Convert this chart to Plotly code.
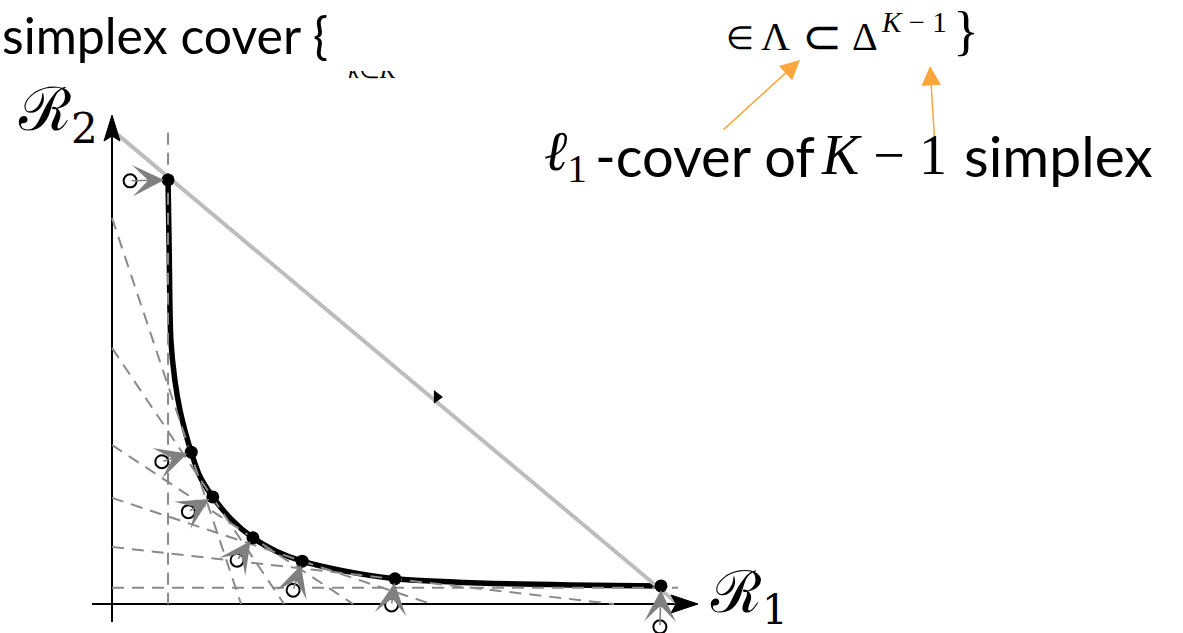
import plotly.graph_objects as go

W, H = 1183, 633

# ---- data, in objective space (R1, R2) ----
front_r1 = [0.099, 0.140, 0.178, 0.249, 0.336, 0.500, 0.970]
front_r2 = [0.891, 0.319, 0.225, 0.139, 0.090, 0.053, 0.038]

start_r1 = [0.032, 0.088, 0.135, 0.221, 0.320, 0.494, 0.968]
start_r2 = [0.889, 0.299, 0.194, 0.092, 0.029, -0.002, -0.048]

curve_r1 = [0.099, 0.101, 0.104, 0.111, 0.120, 0.131, 0.140, 0.155, 0.178, 0.210,
            0.249, 0.290, 0.336, 0.412, 0.500, 0.650, 0.809, 0.970]
curve_r2 = [0.891, 0.744, 0.555, 0.471, 0.408, 0.355, 0.319, 0.269, 0.225, 0.179,
            0.139, 0.111, 0.090, 0.069, 0.053, 0.044, 0.040, 0.038]

# tangent (weight) lines: intercept on R2 axis and on R1 axis
tan_r2_int = [0.811, 0.538, 0.334, 0.223, 0.120]
tan_r1_int = [0.228, 0.304, 0.426, 0.564, 0.887]
vert_r1, vert_top = 0.099, 0.990
horiz_r2, horiz_right = 0.034, 1.000

simplex_r1 = [0.0, 1.0]
simplex_r2 = [0.996, 0.0]

marker_r1, marker_r2 = 0.574, 0.435

# ---- pixel helpers (layout only) ----
X0, Y0, SX, SY = 112, 604, 566, 476
def u(px):
    return (px - X0) / SX
def v(py):
    return (Y0 - py) / SY
def px_(x):
    return x / W
def py_(y):
    return 1 - y / H

fig = go.Figure()

# black axes
fig.add_trace(go.Scatter(x=[u(92), u(676)], y=[0, 0], mode="lines",
                         line=dict(color="black", width=2), hoverinfo="skip"))
fig.add_trace(go.Scatter(x=[0, 0], y=[v(622), v(136)], mode="lines",
                         line=dict(color="black", width=2), hoverinfo="skip"))

# Pareto front curve
fig.add_trace(go.Scatter(x=curve_r1, y=curve_r2, mode="lines",
                         line=dict(color="black", width=5.5, shape="spline", smoothing=0.8),
                         hoverinfo="skip"))

dash_style = dict(color="#8a8a8a", width=2, dash="12px,8px")
for a, b in zip(tan_r2_int, tan_r1_int):
    fig.add_trace(go.Scatter(x=[0, b], y=[a, 0], mode="lines", line=dash_style,
                             hoverinfo="skip"))
fig.add_trace(go.Scatter(x=[vert_r1, vert_r1], y=[vert_top, 0], mode="lines",
                         line=dash_style, hoverinfo="skip"))
fig.add_trace(go.Scatter(x=[0, horiz_right], y=[horiz_r2, horiz_r2], mode="lines",
                         line=dash_style, hoverinfo="skip"))

# simplex line
fig.add_trace(go.Scatter(x=simplex_r1, y=simplex_r2, mode="lines",
                         line=dict(color="#bdbdbd", width=4), hoverinfo="skip"))

# axis arrowheads
fig.add_trace(go.Scatter(x=[u(698), u(671), u(676), u(671), u(698)],
                         y=[v(604), v(595), v(604), v(613), v(604)],
                         mode="lines", fill="toself", fillcolor="black",
                         line=dict(color="black", width=1), hoverinfo="skip"))
fig.add_trace(go.Scatter(x=[u(112), u(104), u(112), u(120), u(112)],
                         y=[v(115), v(141), v(136), v(141), v(115)],
                         mode="lines", fill="toself", fillcolor="black",
                         line=dict(color="black", width=1), hoverinfo="skip"))

# direction marker on simplex
fig.add_trace(go.Scatter(x=[marker_r1], y=[marker_r2], mode="markers",
                         marker=dict(symbol="triangle-right", size=12, color="black"),
                         hoverinfo="skip"))

# open circles (starting points)
fig.add_trace(go.Scatter(x=start_r1, y=start_r2, mode="markers",
                         marker=dict(symbol="circle", size=13, color="white",
                                     line=dict(color="black", width=2)),
                         hoverinfo="skip"))
# front points
fig.add_trace(go.Scatter(x=front_r1, y=front_r2, mode="markers",
                         marker=dict(symbol="circle", size=13, color="black"),
                         hoverinfo="skip"))

# partially hidden subscript text + white cover
fig.add_trace(go.Scatter(x=[u(372)], y=[v(72)], mode="text",
                         text=["<i>k</i>∈<i>K</i>"],
                         textfont=dict(family="Liberation Serif", size=24, color="black"),
                         hoverinfo="skip"))

shapes = [dict(type="rect", xref="paper", yref="paper",
               x0=px_(328), x1=px_(722), y0=py_(71), y1=py_(0),
               fillcolor="white", line=dict(width=0), layer="above")]

ann = []
# gray arrows from open circles to front points
for x1, y1, x0, y0 in zip(front_r1, front_r2, start_r1, start_r2):
    ann.append(dict(x=x1, y=y1, ax=x0, ay=y0, xref="x", yref="y", axref="x", ayref="y",
                    text="", showarrow=True, arrowhead=3, arrowsize=3.3, arrowwidth=1.6,
                    arrowcolor="#808080", standoff=4))

# orange pointer arrows
orange = "#FBA63C"
for (hx, hy), (tx, ty) in [((800, 60), (722, 131)), ((930, 66), (935, 147))]:
    ann.append(dict(x=u(hx), y=v(hy), ax=u(tx), ay=v(ty), xref="x", yref="y",
                    axref="x", ayref="y", text="", showarrow=True, arrowhead=2,
                    arrowsize=2.6, arrowwidth=1.5, arrowcolor=orange))


def label(text, x, y, size, family, anchor="left"):
    ann.append(dict(x=px_(x), y=py_(y), xref="paper", yref="paper", xanchor=anchor,
                    yanchor="middle", showarrow=False, text=text,
                    font=dict(family=family, size=size, color="black")))


SERIF = "Liberation Serif"
SANS = "Lato"
# top line
label("simplex cover {", 0, 35, 50, SANS)
label("∈", 724, 38, 32, SERIF)
label("Λ", 759, 37, 40, SERIF)
label("⊂", 800, 36, 48, SERIF)
label("Δ", 850, 37, 40, SERIF)
label("<i>K</i> − 1", 879, 22, 29, SERIF)
label("}", 951, 31, 54, SERIF)
# annotation line
label("<i>ℓ</i><sub>1</sub>", 542, 155, 56, SERIF)
label("-cover of", 593, 155, 56, SANS)
label("<i>K</i> − 1", 819, 155, 56, SERIF)
label("simplex", 962, 155, 57, SANS)
# axis labels
label("ℛ<sub>2</sub>", 16, 114, 60, "DejaVu Serif")
label("ℛ<sub>1</sub>", 708, 596, 58, "DejaVu Serif")

fig.update_layout(
    width=W, height=H, margin=dict(l=0, r=0, t=0, b=0),
    paper_bgcolor="white", plot_bgcolor="white", showlegend=False,
    xaxis=dict(range=[u(0), u(W)], visible=False, fixedrange=True),
    yaxis=dict(range=[v(H), v(0)], visible=False, fixedrange=True),
    shapes=shapes, annotations=ann,
)

fig.write_html("out.html", config={"displayModeBar": False},
               post_script="document.body.style.margin='0';document.body.style.padding='0';")
